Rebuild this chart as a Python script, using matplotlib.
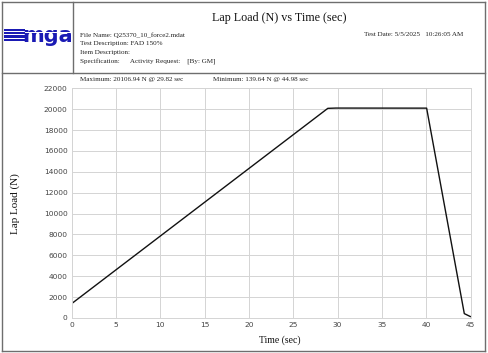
import matplotlib
matplotlib.use("Agg")
import matplotlib.pyplot as plt
from matplotlib.patches import Rectangle
from matplotlib.lines import Line2D

# ---- data ----
time_s = [0.0, 28.9, 29.82, 40.05, 44.3, 44.98]
load_n = [1380, 20080, 20106.94, 20100, 420, 139.64]
x_ticks = [0, 5, 10, 15, 20, 25, 30, 35, 40, 45]
y_ticks = [0, 2000, 4000, 6000, 8000, 10000, 12000, 14000, 16000, 18000, 20000, 22000]

title = "Lap Load (N) vs Time (sec)"
info_lines = ["File Name: Q25370_10_force2.mdat",
              "Test Description: FAD 150%",
              "Item Description:",
              "Specification:      Activity Request:    [By: GM]"]
test_date = "Test Date: 5/5/2025   10:26:05 AM"
max_text = "Maximum: 20106.94 N @ 29.82 sec"
min_text = "Minimum: 139.64 N @ 44.98 sec"

W, H = 488, 353
fig = plt.figure(figsize=(W / 100, H / 100), dpi=100)
SERIF = ["Liberation Serif", "DejaVu Serif"]


def fx(px):
    return px / W


def fy(py):
    return 1 - py / H


def hline(x0, x1, y, color="#6e6e6e", lw=1.0):
    fig.add_artist(Line2D([fx(x0), fx(x1)], [fy(y), fy(y)], color=color, lw=lw,
                          transform=fig.transFigure))


def vline(x, y0, y1, color="#6e6e6e", lw=1.0):
    fig.add_artist(Line2D([fx(x), fx(x)], [fy(y0), fy(y1)], color=color, lw=lw,
                          transform=fig.transFigure))


hline(2, 485, 2)
hline(2, 485, 350.5)
vline(2, 2, 350.5)
vline(485, 2, 350.5)
hline(2, 485, 72.5)
vline(72.5, 2, 72.5)

# logo
blue = "#1a1ab4"
for i in range(4):
    y0 = 28.5 + i * 3.4
    fig.add_artist(Rectangle((fx(4), fy(y0 + 2.2)), fx(25) - fx(4), fy(y0) - fy(y0 + 2.2),
                             transform=fig.transFigure, color=blue, lw=0))
fig.text(fx(47.5), fy(35.5), "mga", fontsize=15, fontweight="bold", color=blue,
         ha="center", va="center", family=["DejaVu Sans"], zorder=2)
for i in range(2):
    y0 = 32.2 + i * 3.4
    fig.add_artist(Rectangle((fx(25), fy(y0 + 0.6)), fx(72) - fx(25), fy(y0) - fy(y0 + 0.6),
                             transform=fig.transFigure, color="white", lw=0, zorder=5))

# header text
fig.text(fx(279.5), fy(18.5), title, fontsize=8.7, family=SERIF, ha="center", va="center",
         color="#111111")
for i, line in enumerate(info_lines):
    fig.text(fx(80), fy(35 + i * 8.9), line, fontsize=5.1, family=SERIF,
             ha="left", va="center", color="#222222")
fig.text(fx(463), fy(34.5), test_date, fontsize=5.1, family=SERIF, ha="right",
         va="center", color="#222222")
fig.text(fx(80), fy(79), max_text, fontsize=5.1, family=SERIF, ha="left",
         va="center", color="#222222")
fig.text(fx(213), fy(79), min_text, fontsize=5.1, family=SERIF, ha="left",
         va="center", color="#222222")

# axes
left, right, top, bottom = 71.7, 470.5, 88.3, 318
ax = fig.add_axes([fx(left), fy(bottom), fx(right) - fx(left), fy(top) - fy(bottom)])
ax.plot(time_s, load_n, color="#111111", lw=1.0)
ax.set_xlim(0, 45)
ax.set_ylim(0, 22000)
ax.set_xticks(x_ticks)
ax.set_yticks(y_ticks)
ax.set_xticklabels([str(v) for v in x_ticks])
ax.set_yticklabels([str(v) for v in y_ticks])
ax.grid(True, color="#d4d4d4", lw=0.7)
ax.set_axisbelow(True)
for s in ax.spines.values():
    s.set_color("#d4d4d4")
    s.set_linewidth(0.7)
ax.tick_params(length=0, labelsize=5.4, colors="#444444", pad=3)
for lab in ax.get_xticklabels() + ax.get_yticklabels():
    lab.set_family(["DejaVu Sans"])
ax.set_xlabel("Time (sec)", fontsize=7.0, family=SERIF, color="#111111", va="center")
ax.xaxis.set_label_coords((280 - left) / (right - left), -(340 - bottom) / (bottom - top))
ax.set_ylabel("Lap Load (N)", fontsize=8.0, family=SERIF, color="#111111")
ax.yaxis.set_label_coords(-(left - 20) / (right - left), 0.5)

fig.savefig("out.png", dpi=100)
